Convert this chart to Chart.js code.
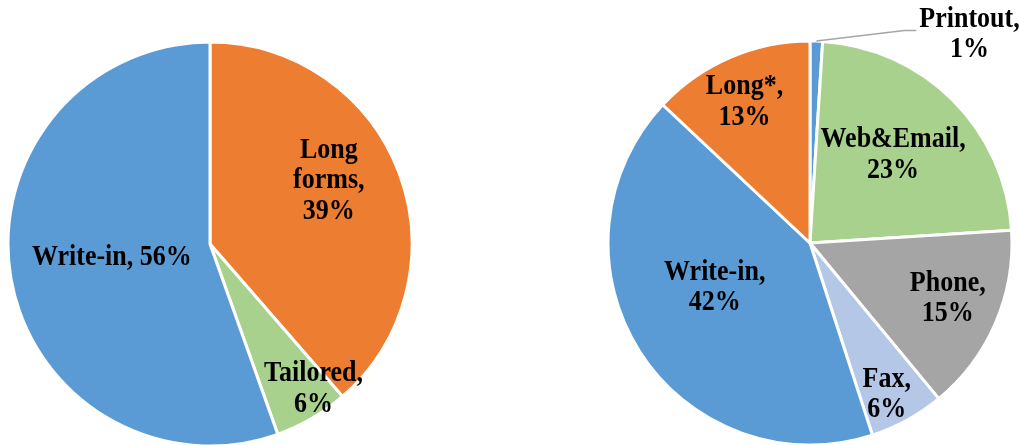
<!DOCTYPE html>
<html>
<head>
<meta charset="utf-8">
<script src="https://cdn.jsdelivr.net/npm/chart.js@4.4.0/dist/chart.umd.min.js"></script>
<style>
  html, body { margin: 0; padding: 0; background: #fff; }
  .pie { position: absolute; top: 0; width: 420px; height: 445px; }
  #left { left: 0; }
  #right { left: 600px; }
</style>
</head>
<body>
<div class="pie" id="left"><canvas id="leftChart" width="420" height="445"></canvas></div>
<div class="pie" id="right"><canvas id="rightChart" width="420" height="445"></canvas></div>
<script>
'use strict';

// share of forms by type
const leftLabels = ['Long forms', 'Tailored', 'Write-in'];
const leftValues = [39, 6, 56];

// share of responses by channel
const rightLabels = ['Printout', 'Web&Email', 'Phone', 'Fax', 'Write-in', 'Long*'];
const rightValues = [1, 23, 15, 6, 42, 13];

const BLUE = '#5B9BD5', ORANGE = '#ED7D31', GREEN = '#A9D18E', GREY = '#A5A5A5', LIGHTBLUE = '#B4C7E7';

// where each slice label sits: fraction of radius, angle shift (deg) from slice middle, line split
const leftPlace = [
  { r: 0.667, shift: -7.6, split: 'words' },
  { r: 0.88, shift: -5.3, split: 'pct' },
  { r: 0.49, shift: 2.2, split: 'none' }
];
const rightPlace = [
  { r: 1.30, shift: 35.6, split: 'pct', leader: true },
  { r: 0.60, shift: -1.7, split: 'pct' },
  { r: 0.735, shift: -1.5, split: 'pct' },
  { r: 0.84, shift: 1.9, split: 'pct' },
  { r: 0.52, shift: 7.5, split: 'pct' },
  { r: 0.77, shift: -1.5, split: 'pct' }
];

// draws "Name, NN%" inside (or beside) every slice
const sliceLabels = {
  id: 'sliceLabels',
  afterDatasetsDraw(chart, args, opts) {
    var ctx = chart.ctx;
    var meta = chart.getDatasetMeta(0);
    var values = chart.data.datasets[0].data;
    var lineH = 30.5;

    ctx.save();
    ctx.font = 'bold 26px "Liberation Serif", "Times New Roman", serif';
    ctx.fillStyle = '#000';
    ctx.textAlign = 'center';
    ctx.textBaseline = 'middle';

    meta.data.forEach(function(arc, i) {
      var p = opts.place[i];
      var a = arc.getProps(['x', 'y', 'startAngle', 'endAngle', 'outerRadius'], true);
      var mid = (a.startAngle + a.endAngle) / 2;
      var ang = mid + p.shift * Math.PI / 180;
      var lx = a.x + Math.cos(ang) * a.outerRadius * p.r;
      var ly = a.y + Math.sin(ang) * a.outerRadius * p.r;

      var name = chart.data.labels[i];
      var pct = values[i] + '%';
      var lines;
      if (p.split === 'words') {
        lines = (name + ',').split(' ').concat([pct]);
      } else if (p.split === 'pct') {
        lines = [name + ',', pct];
      } else {
        lines = [name + ', ' + pct];
      }

      // glyphs are a bit taller than wide, so stretch them vertically
      var top = ly - (lines.length - 1) * lineH / 2;
      lines.forEach(function(line, k) {
        ctx.save();
        ctx.translate(lx, top + k * lineH);
        ctx.scale(1, 1.15);
        ctx.fillText(line, 0, 0);
        ctx.restore();
      });

      if (p.leader) {
        var w = ctx.measureText(lines[0]).width;
        var endX = lx - w / 2 - 3;
        var endY = ly - 4;
        ctx.beginPath();
        ctx.moveTo(a.x + Math.cos(mid) * a.outerRadius, a.y + Math.sin(mid) * a.outerRadius);
        ctx.lineTo(endX - 12, endY);
        ctx.lineTo(endX, endY);
        ctx.strokeStyle = '#A6A6A6';
        ctx.lineWidth = 1.5;
        ctx.stroke();
      }
    });
    ctx.restore();
  }
};

function makePie(canvasId, labels, values, colors, place, padding) {
  return new Chart(document.getElementById(canvasId), {
    type: 'pie',
    data: {
      labels: labels,
      datasets: [{
        data: values,
        backgroundColor: colors,
        borderColor: '#fff',
        borderWidth: 3,
        radius: 202
      }]
    },
    options: {
      responsive: false,
      animation: false,
      layout: { padding: padding },
      plugins: {
        legend: { display: false },
        tooltip: { enabled: false },
        sliceLabels: { place: place }
      }
    },
    plugins: [sliceLabels]
  });
}

makePie('leftChart', leftLabels, leftValues, [ORANGE, GREEN, BLUE], leftPlace,
  { left: 9, right: 9, top: 43, bottom: 0 });
makePie('rightChart', rightLabels, rightValues, [BLUE, GREEN, GREY, LIGHTBLUE, BLUE, ORANGE], rightPlace,
  { left: 9, right: 9, top: 42, bottom: 1 });
</script>
</body>
</html>
